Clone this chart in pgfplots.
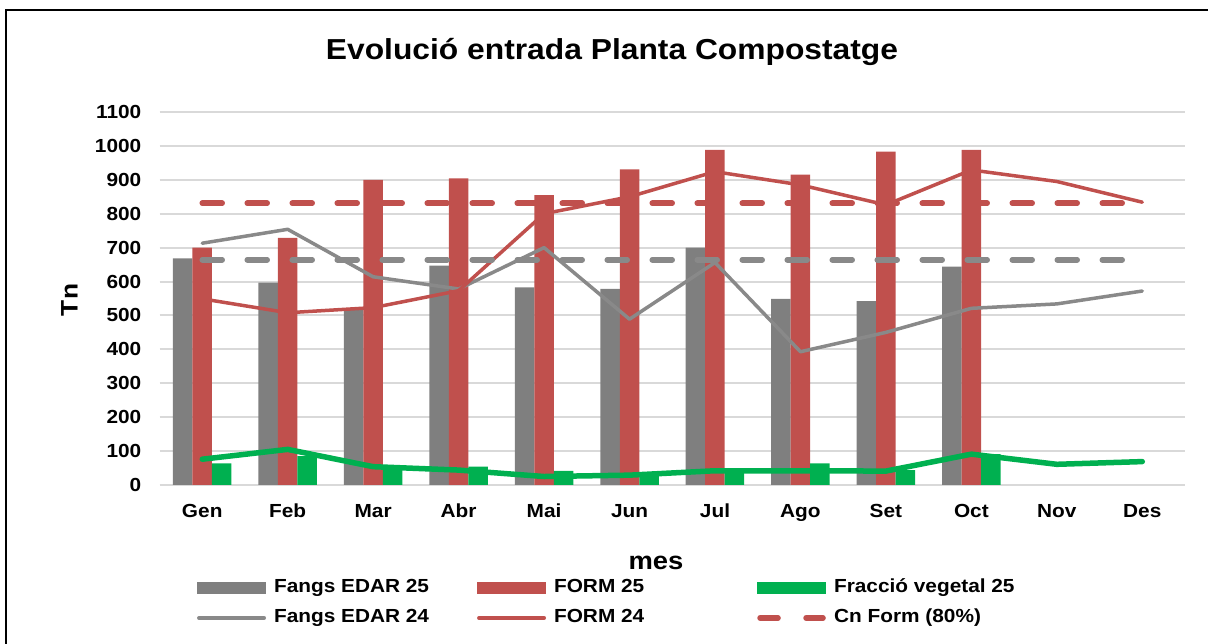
\documentclass[border=0pt]{standalone}
\usepackage{fontspec}
\setmainfont{Liberation Sans}[FakeStretch=1.1]
\usepackage{pgfplots}
\pgfplotsset{compat=1.18}
\definecolor{cgray}{HTML}{7F7F7F}
\definecolor{clgray}{HTML}{898989}
\definecolor{cred}{HTML}{C0504D}
\definecolor{cgreen}{HTML}{00B050}
\definecolor{cgrid}{HTML}{D9D9D9}
\begin{document}
\begin{tikzpicture}[x=1bp,y=1bp]
\useasboundingbox (0,0) rectangle (1208,644);
\draw[line width=2.7bp, black] (6,0) -- (6,634) -- (1208,634);
\node[anchor=base, inner sep=0pt, font=\bfseries\fontsize{29}{29}\selectfont] at (612,584) {Evolució entrada Planta Compostatge};
\node[anchor=base, inner sep=0pt, rotate=90, font=\bfseries\fontsize{24}{24}\selectfont] at (77.5,344) {Tn};
\node[anchor=base, inner sep=0pt, font=\bfseries\fontsize{25}{25}\selectfont] at (656,74) {mes};
\begin{axis}[
  at={(159.5bp,159bp)}, anchor=south west,
  scale only axis, width=1025.5bp, height=373bp,
  xmin=-0.5, xmax=11.5, ymin=0, ymax=1100,
  ytick={0,100,...,1100},
  xtick={0,...,11},
  xticklabels={Gen,Feb,Mar,Abr,Mai,Jun,Jul,Ago,Set,Oct,Nov,Des},
  ymajorgrids, grid style={cgrid, line width=2bp},
  axis line style={draw=none}, major tick length=0pt,
  /pgf/number format/assume math mode=true,
  /pgf/number format/1000 sep={},
  ticklabel style={font=\bfseries\fontsize{19}{19}\selectfont},
  yticklabel style={anchor=east, inner sep=0pt, xshift=-18bp},
  xticklabel style={anchor=base, inner sep=0pt, yshift=-33bp},
  legend columns=3,
  legend style={draw=none, fill=none, at={(0.0366,-0.252)}, anchor=north west,
    inner sep=0pt, outer sep=0pt, column sep=8bp, row sep=12bp,
    nodes={inner sep=0pt, font=\bfseries\fontsize{19}{19}\selectfont, text height=14bp, text depth=4bp}},
  legend cell align=left,
  clip=false,
]
% bars 2025
\addplot[ybar, bar width=19.5bp, bar shift=-19.5bp, fill=cgray, draw=none,
  legend image code/.code={\fill[cgray] (0bp,-6bp) rectangle (69bp,6bp);}]
  coordinates {(0,668) (1,597) (2,521) (3,647) (4,583) (5,578) (6,700) (7,549) (8,542) (9,644)};
\addlegendentry{\makebox[195bp][l]{Fangs EDAR 25}}
\addplot[ybar, bar width=19.5bp, bar shift=0bp, fill=cred, draw=none,
  legend image code/.code={\fill[cred] (0bp,-6bp) rectangle (69bp,6bp);}]
  coordinates {(0,700) (1,729) (2,900) (3,904) (4,855) (5,931) (6,988) (7,915) (8,983) (9,988)};
\addlegendentry{\makebox[195bp][l]{FORM 25}}
\addplot[ybar, bar width=19.5bp, bar shift=19.5bp, fill=cgreen, draw=none,
  legend image code/.code={\fill[cgreen] (0bp,-6bp) rectangle (69bp,6bp);}]
  coordinates {(0,64) (1,85) (2,50) (3,54) (4,42) (5,34) (6,39) (7,64) (8,44) (9,91)};
\addlegendentry{Fracció vegetal 25}
% lines 2024
\addplot[clgray, line width=3.5bp, line cap=round, line join=round, mark=none,
  legend image code/.code={\draw[clgray, line width=4bp, line cap=round] (2bp,0bp) -- (67bp,0bp);}]
  coordinates {(0,713) (1,754) (2,614) (3,578) (4,700) (5,489) (6,656) (7,393) (8,450) (9,521) (10,534) (11,572)};
\addlegendentry{\makebox[195bp][l]{Fangs EDAR 24}}
\addplot[cred, line width=3.5bp, line cap=round, line join=round, mark=none,
  legend image code/.code={\draw[cred, line width=4bp, line cap=round] (2bp,0bp) -- (67bp,0bp);}]
  coordinates {(0,549) (1,508) (2,523) (3,573) (4,800) (5,850) (6,924) (7,885) (8,826) (9,929) (10,895) (11,834)};
\addlegendentry{\makebox[195bp][l]{FORM 24}}
\addplot[cred, line width=5.5bp, line cap=round, dash pattern=on 20bp off 25bp, mark=none,
  legend image code/.code={\draw[cred, line width=5.5bp, line cap=round, dash pattern=on 18bp off 28bp] (3bp,0bp) -- (66bp,0bp);}]
  coordinates {(0,831) (11,831)};
\addlegendentry{Cn Form (80\%)}
\addplot[clgray, line width=5.5bp, line cap=round, dash pattern=on 20bp off 25bp, mark=none, forget plot]
  coordinates {(0,664) (11,664)};
\addplot[cgreen, line width=5.5bp, line cap=round, line join=round, mark=none, forget plot]
  coordinates {(0,76) (1,105) (2,54) (3,44) (4,25) (5,29) (6,42) (7,42) (8,41) (9,91) (10,61) (11,69)};
\end{axis}
\end{tikzpicture}
\end{document}
